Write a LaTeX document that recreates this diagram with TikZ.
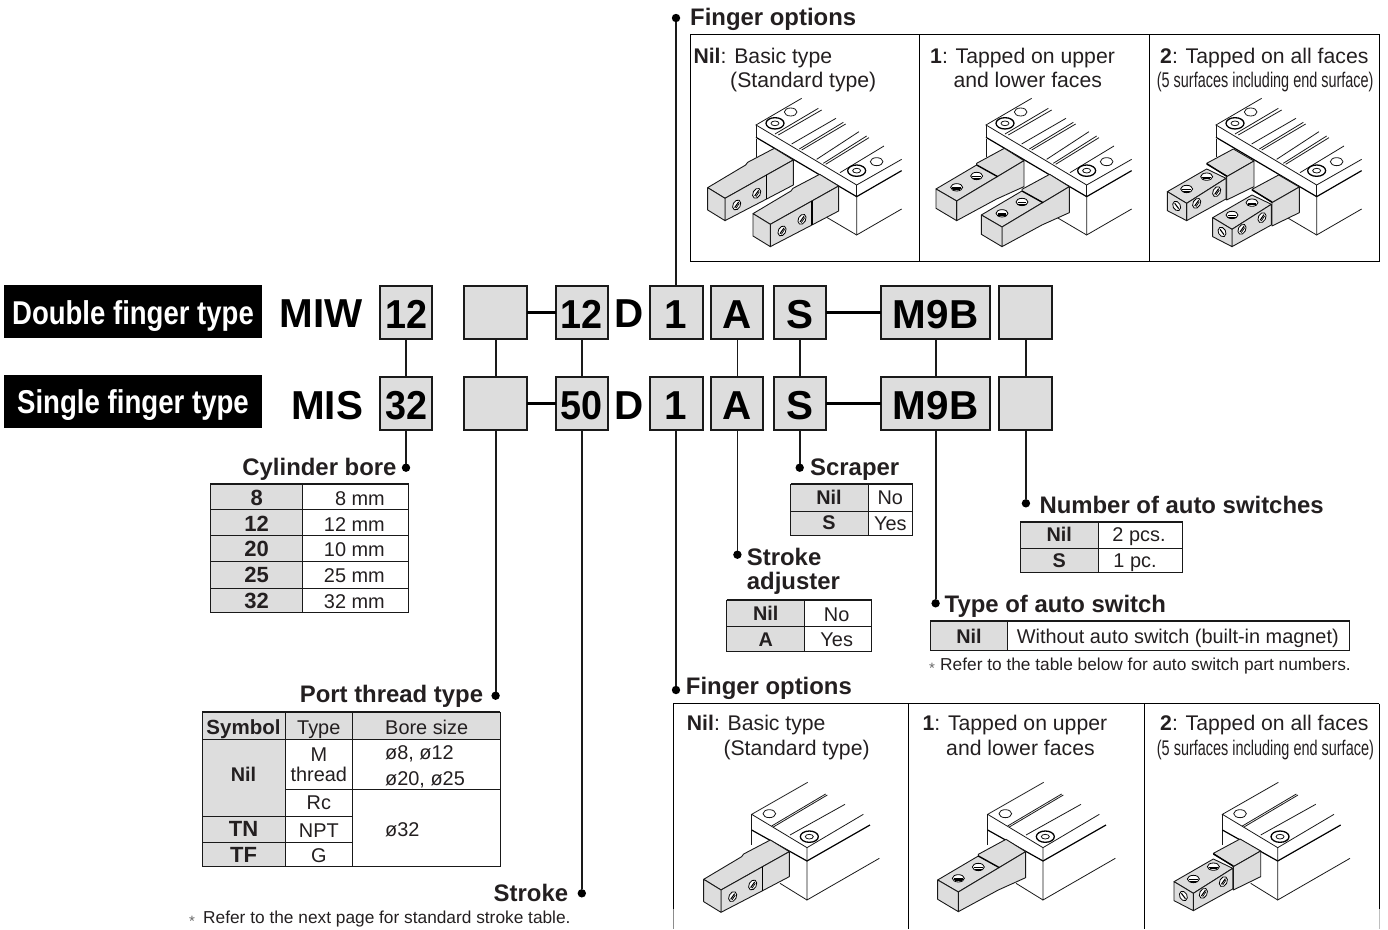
\documentclass[tikz,border=0pt]{standalone}
\usepackage{graphicx}
\usepackage{fontspec}
\setmainfont{Liberation Sans}
\definecolor{ink}{HTML}{231F20}
\definecolor{cellgray}{HTML}{DDDDDD}
\definecolor{boxline}{HTML}{1A1A1A}
\newcounter{tn}
\newcommand{\Tx}[4][]{\stepcounter{tn}\node[#1] (t\arabic{tn}) at (#2,#3) {#4};}
\newcommand{\fsz}[1]{\fontsize{#1}{#1}\selectfont}
\tikzset{
 hd/.style={font=\fsz{23.9}\bfseries,text=ink,anchor=base west,inner sep=0pt},
 hdr/.style={hd,anchor=base east},
 reg/.style={font=\fsz{19.9},text=ink,anchor=base,inner sep=0pt},
 regl/.style={reg,anchor=base west},
 regr/.style={reg,anchor=base east},
 bld/.style={font=\fsz{19.8}\bfseries,text=ink,anchor=base,inner sep=0pt},
 bldb/.style={font=\fsz{22}\bfseries,text=ink,anchor=base,inner sep=0pt},
 pan/.style={font=\fsz{21.2},text=ink,anchor=base west,inner sep=0pt},
 note/.style={font=\fsz{17.3},text=ink,anchor=base west,inner sep=0pt},
 star/.style={font=\fsz{15},text=black!60,anchor=base west,inner sep=0pt},
 big/.style={font=\fsz{40.4}\bfseries,text=black,anchor=base west,inner sep=0pt},
 codebox/.style={draw=boxline,line width=2pt,fill=cellgray,inner sep=0pt,outer sep=0pt,minimum height=53pt,font=\fsz{40.4}\bfseries,text=black,text height=32pt,text depth=0pt},
 blackbox/.style={fill=black,text=white,inner sep=0pt,outer sep=0pt,minimum width=258pt,minimum height=53pt,font=\fsz{33}\bfseries,text depth=0pt},
 vline/.style={line width=1.8pt,draw=boxline},
 hline/.style={line width=3pt,draw=black},
 dot/.style={circle,fill=black,inner sep=0pt,outer sep=0pt,minimum size=8.4pt},
 tline/.style={line width=.9pt,draw=black!90},
 ttop/.style={line width=1.8pt,draw=black!90},
 cell/.style={fill=cellgray},
 il/.style={line width=.8pt,draw=black!90},
 ilt/.style={line width=1.2pt,draw=black},
 face/.style={fill=cellgray,draw=black!90,line width=.9pt,line join=round},
 holef/.style={fill=white,draw=black,line width=.8pt},
}
% holes
\newcommand{\ringhole}[2]{\draw[line width=1.3pt,draw=black,fill=white] (#1,#2) ellipse [x radius=27,y radius=17];\draw[il] (#1,#2) ellipse [x radius=12,y radius=7];}
\newcommand{\plainhole}[2]{\draw[il] (#1,#2) ellipse [x radius=19,y radius=12];}
\newcommand{\sidehole}[2]{\draw[holef] (#1,#2) ellipse [x radius=11,y radius=16,rotate=-28];\draw[line width=1.1pt,black] ({#1-6},{#2+8}) -- ({#1+6},{#2-9});\draw[line width=.7pt,black] ({#1-2},{#2+10}) -- ({#1+8},{#2-5});}
\newcommand{\tophole}[2]{\draw[holef] (#1,#2) ellipse [x radius=18,y radius=11];\draw[line width=1.1pt,black] ({#1-13},{#2+2}) -- ({#1+13},{#2+2});\draw[line width=.7pt,black] ({#1-11},{#2+6}) -- ({#1+11},{#2+6});}
\newcommand{\facehole}[2]{\draw[holef] (#1,#2) ellipse [x radius=11,y radius=15,rotate=28];\draw[line width=1.1pt,black] ({#1-6},{#2-8}) -- ({#1+6},{#2+8});}
% bodies
\newcommand{\bodydouble}{
 \draw[il] (365,295) -- (228,375) -- (530,555) -- (665,478);
 \draw[il] (228,375) -- (228,412); \draw[il] (530,555) -- (530,590);
 \draw[ilt] (228,412) -- (530,590) -- (665,512);
 \draw[il] (228,418) -- (228,470);
 \draw[il] (530,590) -- (530,705) -- (665,627);
 \draw[il] (530,705) -- (440,652);
 \draw[il] (285,402) -- (415,325); \draw[il] (295,405) -- (425,330);
 \draw[il] (335,432) -- (468,355);
 \draw[il] (358,447) -- (490,367); \draw[il] (365,450) -- (497,372);
 \draw[il] (410,478) -- (537,395);
 \draw[il] (430,490) -- (560,408); \draw[il] (437,493) -- (567,413);
 \draw[il] (480,518) -- (612,438);
 \plainhole{332}{336}\ringhole{285}{370}\plainhole{590}{485}\ringhole{530}{512}
}
\newcommand{\bodysingle}{
 \draw[il] (443,337) -- (275,433) -- (441,533) -- (610,433);
 \draw[il] (275,433) -- (275,525);
 \draw[ilt] (275,480) -- (441,573) -- (630,465);
 \draw[il] (441,533) -- (441,690) -- (658,565);
 \draw[il] (441,690) -- (360,640);
 \draw[il] (335,468) -- (497,372); \draw[il] (340,471) -- (502,375);
 \draw[il] (390,495) -- (555,403);
 \plainhole{328}{431}\ringhole{448}{500}
}
% fingers
\newcommand{\fnil}{
 \draw[face] (83,563) -- (197,495) -- (203,487) -- (283,445) -- (340,480) -- (135,595) -- cycle;
 \draw[face] (135,595) -- (340,480) -- (340,555) -- (260,597) -- (135,662) -- cycle;
 \draw[face] (83,563) -- (135,595) -- (135,662) -- (83,630) -- cycle;
 \draw[line width=1.6pt,black] (260,525) -- (260,597);
 \sidehole{170}{615}\sidehole{230}{580}
}
\newcommand{\ftap}{
 \draw[face] (78,567) -- (200,495) -- (200,490) -- (283,445) -- (342,482) -- (140,603) -- cycle;
 \draw[face] (140,603) -- (342,482) -- (342,560) -- (260,597) -- (140,662) -- cycle;
 \draw[face] (78,567) -- (140,603) -- (140,662) -- (78,625) -- cycle;
 \draw[line width=1.4pt,black] (200,495) -- (263,530);
 \tophole{140}{562}\tophole{200}{528}
}
\newcommand{\fall}{
 \draw[face] (200,490) -- (280,447) -- (342,483) -- (260,530) -- cycle;
 \draw[face] (260,530) -- (342,483) -- (342,560) -- (260,600) -- cycle;
 \draw[face] (82,575) -- (200,507) -- (258,535) -- (140,610) -- cycle;
 \draw[face] (140,610) -- (258,535) -- (258,597) -- (140,662) -- cycle;
 \draw[face] (82,575) -- (140,610) -- (140,662) -- (82,632) -- cycle;
 \draw[line width=1.4pt,black] (200,492) -- (260,528);
 \tophole{140}{567}\tophole{200}{530}
 \sidehole{170}{610}\sidehole{230}{575}\facehole{110}{618}
}
\newcommand{\dbl}[2]{\begin{scope}[shift={(#1,0)},x=.3333pt,y=-.3333pt]\bodydouble #2
 \begin{scope}[shift={(136,78)}]#2\end{scope}\end{scope}}
\newcommand{\sgl}[3]{\begin{scope}[shift={(#1,670)},x=.3333pt,y=-.3333pt]\bodysingle
 \begin{scope}[shift={#3}]#2\end{scope}\end{scope}}
\begin{document}
\begin{tikzpicture}[x=1pt,y=-1pt]
\useasboundingbox (0,0) rectangle (1388,929);
% label bars
\node[blackbox,text height=25pt] (dblbar) at (133,311.5) {\resizebox{241.7pt}{\height}{Double finger type}};
\node[blackbox,text height=23pt] (sglbar) at (133,401.5) {\resizebox{231.7pt}{\height}{Single finger type}};
\Tx[big]{279.2}{327.5}{MIW}
\Tx[big]{291}{419}{MIS}
% row 1
\node[codebox,minimum width=52pt] (a1) at (406,312) {\resizebox{42pt}{\height}{12}};
\node[codebox,minimum width=63pt] (a2) at (495.6,312) {};
\node[codebox,minimum width=52pt] (a3) at (581.8,312) {\resizebox{42pt}{\height}{12}};
\node[codebox,minimum width=53pt] (a4) at (676,312) {1};
\node[codebox,minimum width=52pt] (a5) at (737.4,312) {A};
\node[codebox,minimum width=52pt] (a6) at (799.7,312) {S};
\node[codebox,minimum width=109pt] (a7) at (935.6,312) {M9B};
\node[codebox,minimum width=53pt] (a8) at (1025.9,312) {};
% row 2
\node[codebox,minimum width=52pt] (b1) at (406,403) {\resizebox{42pt}{\height}{32}};
\node[codebox,minimum width=63pt] (b2) at (495.6,403) {};
\node[codebox,minimum width=52pt] (b3) at (581.8,403) {\resizebox{42pt}{\height}{50}};
\node[codebox,minimum width=53pt] (b4) at (676,403) {1};
\node[codebox,minimum width=52pt] (b5) at (737.4,403) {A};
\node[codebox,minimum width=52pt] (b6) at (799.7,403) {S};
\node[codebox,minimum width=109pt] (b7) at (935.6,403) {M9B};
\node[codebox,minimum width=53pt] (b8) at (1025.9,403) {};
\Tx[big,anchor=base]{628.7}{327.5}{D}
\Tx[big,anchor=base]{628.7}{419}{D}
% dots
\node[dot] (dfingtop) at (676,18) {};
\node[dot] (dbore) at (406,467.7) {};
\node[dot] (dport) at (495.6,695.7) {};
\node[dot] (dstroke) at (581.8,893.3) {};
\node[dot] (dfingbot) at (676,690) {};
\node[dot] (dadj) at (737.4,554.7) {};
\node[dot] (dscr) at (799.7,467.7) {};
\node[dot] (dtype) at (935.6,603.3) {};
\node[dot] (dnum) at (1025.9,503.3) {};
% connectors
\draw[hline] (a2.east) -- (a3.west); \draw[hline] (a6.east) -- (a7.west);
\draw[hline] (b2.east) -- (b3.west); \draw[hline] (b6.east) -- (b7.west);
\foreach \i in {1,2,3,5,6,7,8} {\draw[vline] (a\i.south) -- (b\i.north);}
\draw[vline] (dfingtop) -- (a4.north);
\draw[vline] (b1.south) -- (dbore);
\draw[vline] (b2.south) -- (dport);
\draw[vline] (b3.south) -- (dstroke);
\draw[vline] (b4.south) -- (dfingbot);
\draw[vline] (b5.south) -- (dadj);
\draw[vline] (b6.south) -- (dscr);
\draw[vline] (b7.south) -- (dtype);
\draw[vline] (b8.south) -- (dnum);
% top panel
\Tx[hd]{690}{25}{Finger options}
\draw[line width=.9pt,black] (690,34.3) rectangle (1379.3,261);
\draw[line width=.9pt,black] (919.7,34.3) -- (919.7,261);
\draw[line width=.9pt,black] (1149.3,34.3) -- (1149.3,261);
\Tx[pan]{693.3}{63.3}{\textbf{Nil}: Basic type}
\Tx[pan]{730}{87.3}{(Standard type)}
\Tx[pan]{930}{63.3}{\textbf{1}: Tapped on upper}
\Tx[pan]{953.3}{87.3}{and lower faces}
\Tx[pan]{1160}{63.3}{\textbf{2}: Tapped on all faces}
\Tx[pan]{1156.7}{87.3}{\resizebox{216.6pt}{\height}{(5 surfaces including end surface)}}
\dbl{680}{\fnil}
\dbl{910}{\ftap}
\dbl{1140}{\fall}
% bottom panel
\Tx[hd]{685.7}{694}{Finger options}
\draw[line width=.9pt,black] (673.3,703.5) -- (1379.3,703.5);
\draw[line width=1.3pt,black] (673.3,703.5) -- (673.3,909);
\draw[line width=1.3pt,black!45] (673.3,909) -- (673.3,929);
\draw[line width=1.3pt,black] (1379.3,703.5) -- (1379.3,909);
\draw[line width=1.3pt,black!25] (1379.3,909) -- (1379.3,929);
\draw[line width=.9pt,black] (908.3,703.5) -- (908.3,929);
\draw[line width=.9pt,black] (1144.7,703.5) -- (1144.7,929);
\Tx[pan]{686.7}{730.7}{\textbf{Nil}: Basic type}
\Tx[pan]{723.3}{755}{(Standard type)}
\Tx[pan]{922.3}{730.7}{\textbf{1}: Tapped on upper}
\Tx[pan]{946}{755}{and lower faces}
\Tx[pan]{1160}{730.7}{\textbf{2}: Tapped on all faces}
\Tx[pan]{1156.7}{755}{\resizebox{217pt}{\height}{(5 surfaces including end surface)}}
\sgl{660}{\fnil}{(48,65)}
\sgl{896}{\ftap}{(47,63)}
\sgl{1130.7}{\fall}{(48,60)}
% cylinder bore
\Tx[hdr]{396.7}{475}{Cylinder bore}
\fill[cell] (210,484) rectangle (302.3,612.3);
\draw[tline] (210,484) rectangle (408.7,612.3);
\draw[tline] (302.3,484) -- (302.3,612.3);
\draw[ttop] (210,484) -- (408.7,484);
\foreach \y in {509,535.3,561.7,588.3} {\draw[tline] (210,\y) -- (408.7,\y);}
\Tx[bldb]{256.7}{505}{8} \Tx[regr]{385}{505}{8 mm}
\Tx[bldb]{256.7}{531.7}{12} \Tx[regr]{385}{531.7}{12 mm}
\Tx[bldb]{256.7}{556.7}{20} \Tx[regr]{385}{556.7}{10 mm}
\Tx[bldb]{256.7}{582.7}{25} \Tx[regr]{385}{582.7}{25 mm}
\Tx[bldb]{256.7}{608.3}{32} \Tx[regr]{385}{608.3}{32 mm}
% scraper
\Tx[hd]{810}{475}{Scraper}
\fill[cell] (790.7,484) rectangle (868,535.3);
\draw[tline] (790.7,484) rectangle (912.7,535.3);
\draw[tline] (868,484) -- (868,535.3);
\draw[tline] (790.7,511) -- (912.7,511);
\draw[ttop] (790.7,484) -- (912.7,484);
\Tx[bld]{829}{504}{Nil} \Tx[reg]{890.3}{504}{No}
\Tx[bld]{829}{529.5}{S} \Tx[reg]{890.3}{530.5}{Yes}
% stroke adjuster
\Tx[hd]{746.7}{565}{Stroke}
\Tx[hd]{746.7}{589.3}{adjuster}
\fill[cell] (726.7,600.3) rectangle (804.7,651);
\draw[tline] (726.7,600.3) rectangle (871.7,651);
\draw[tline] (804.7,600.3) -- (804.7,651);
\draw[tline] (726.7,626.7) -- (871.7,626.7);
\draw[ttop] (726.7,600.3) -- (871.7,600.3);
\Tx[bld]{765.7}{620}{Nil} \Tx[reg]{836.7}{621}{No}
\Tx[bld]{765.7}{646}{A} \Tx[reg]{836.7}{646}{Yes}
% number of auto switches
\Tx[hd]{1039.3}{513.3}{Number of auto switches}
\fill[cell] (1020.7,521.7) rectangle (1098.7,572.3);
\draw[tline] (1020.7,521.7) rectangle (1182.7,572.3);
\draw[tline] (1098.7,521.7) -- (1098.7,572.3);
\draw[tline] (1020.7,548.3) -- (1182.7,548.3);
\draw[ttop] (1020.7,521.7) -- (1182.7,521.7);
\Tx[bld]{1059.3}{541.7}{Nil} \Tx[reg]{1139}{541.7}{2 pcs.}
\Tx[bld]{1059.3}{567.3}{S} \Tx[reg]{1135}{567.3}{1 pc.}
% type of auto switch
\Tx[hd]{944.5}{612.7}{Type of auto switch}
\fill[cell] (930,620.7) rectangle (1007.7,650);
\draw[tline] (930,620.7) rectangle (1349,650);
\draw[tline] (1007.7,620.7) -- (1007.7,650);
\draw[ttop] (930,620.7) -- (1349,620.7);
\Tx[bld]{969}{643.3}{Nil}
\Tx[regl]{1016.7}{643.3}{Without auto switch (built-in magnet)}
\Tx[star]{929}{673}{*}
\Tx[note]{940}{670}{Refer to the table below for auto switch part numbers.}
% port thread type
\Tx[hdr]{483.3}{702.7}{Port thread type}
\fill[cell] (202.3,712.3) rectangle (500,739.3);
\fill[cell] (202.3,739.3) rectangle (285.3,866);
\draw[tline] (202.3,712.3) rectangle (500,866);
\draw[tline] (285.3,712.3) -- (285.3,866);
\draw[tline] (352.3,712.3) -- (352.3,866);
\draw[tline] (202.3,739.3) -- (500,739.3);
\draw[tline] (285.3,789.3) -- (500,789.3);
\draw[tline] (202.3,816) -- (352.3,816);
\draw[tline] (202.3,842.7) -- (352.3,842.7);
\draw[ttop] (202.3,712.3) -- (500,712.3);
\Tx[bld,font=\fsz{20.5}\bfseries]{243.5}{734}{Symbol}
\Tx[reg]{318.8}{734}{Type}
\Tx[reg]{426.7}{734}{Bore size}
\Tx[reg]{318.8}{761}{M}
\Tx[reg]{318.8}{781.7}{thread}
\Tx[regl]{385}{759.3}{ø8, ø12}
\Tx[regl]{385}{785}{ø20, ø25}
\Tx[reg]{318.8}{809.3}{Rc}
\Tx[reg]{318.8}{837.7}{NPT}
\Tx[regl]{385}{836}{ø32}
\Tx[reg]{318.8}{862.7}{G}
\Tx[bld]{243.5}{781.7}{Nil}
\Tx[bldb]{243.5}{836.7}{TN}
\Tx[bldb]{243.5}{862.7}{TF}
% stroke
\Tx[hdr]{568.3}{901.7}{Stroke}
\Tx[star]{189}{926.5}{*}
\Tx[note]{203}{923.3}{Refer to the next page for standard stroke table.}
\end{tikzpicture}
\end{document}
